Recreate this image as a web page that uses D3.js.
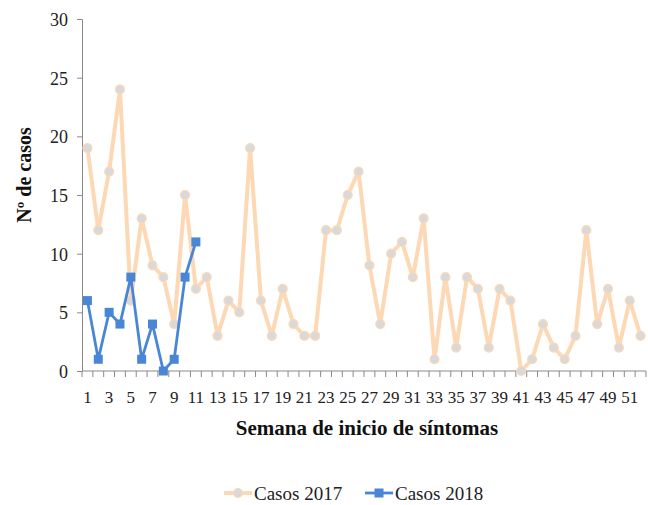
<!DOCTYPE html>
<html><head><meta charset="utf-8">
<script src="https://cdn.jsdelivr.net/npm/d3@7"></script>
<style>body{margin:0;background:#fff}svg{display:block}</style>
</head><body>
<svg id="c" width="648" height="505"></svg>
<script>
const FONT = "Liberation Serif, DejaVu Serif, serif";
const weeks = d3.range(1, 53);
const casos2017 = [19,12,17,24,6,13,9,8,4,15,7,8,3,6,5,19,6,3,7,4,3,3,12,12,15,17,9,4,10,11,8,13,1,8,2,8,7,2,7,6,0,1,4,2,1,3,12,4,7,2,6,3];
const casos2018 = [6,1,5,4,8,1,4,0,1,8,11];
const yTicks = [0,5,10,15,20,25,30];
const seriesNames = ["Casos 2017","Casos 2018"];

const svg = d3.select("#c");
const m = {l:82, r:646, t:19, b:371};
const x = d3.scaleBand().domain(weeks).range([m.l, m.r]);
const y = d3.scaleLinear().domain([0,30]).range([m.b, m.t]);
const axisColor = "#898989";

// y axis
const ya = svg.append("g").attr("transform",`translate(${m.l},0)`)
  .call(d3.axisLeft(y).tickValues(yTicks).tickSize(5).tickPadding(9));
ya.attr("font-family", FONT);
ya.selectAll("path,line").attr("stroke",axisColor);
ya.selectAll("text").attr("font-family",FONT).attr("font-size",18).attr("fill","#222").attr("dy","0.36em");

// x axis with ticks at band boundaries
const xa = svg.append("g").attr("transform",`translate(0,${m.b})`);
xa.append("line").attr("x1",m.l).attr("x2",m.r).attr("stroke",axisColor);
const bounds = weeks.map(w => x(w)).concat([m.r]);
xa.selectAll("line.t").data(bounds).join("line").attr("class","t")
  .attr("x1",d=>d).attr("x2",d=>d).attr("y1",0).attr("y2",6).attr("stroke",axisColor);
xa.selectAll("text").data(weeks.filter(w => w % 2 === 1)).join("text")
  .attr("x", d => x(d) + x.bandwidth()/2).attr("y", 32)
  .attr("text-anchor","middle").attr("font-family",FONT).attr("font-size",17).attr("fill","#222").text(d=>d);

const cx = w => x(w) + x.bandwidth()/2;
const line = d3.line().x(d=>cx(d[0])).y(d=>y(d[1]));

const d17 = weeks.map((w,i)=>[w,casos2017[i]]);
const d18 = casos2018.map((v,i)=>[weeks[i],v]);
const peach = "#FDD8B5", gray = "#D9D9D9", blue = "#4A86D6";

svg.append("path").datum(d17).attr("d",line).attr("fill","none").attr("stroke",peach).attr("stroke-width",4).attr("stroke-linejoin","round");
svg.selectAll("circle.p17").data(d17).join("circle").attr("class","p17")
  .attr("cx",d=>cx(d[0])).attr("cy",d=>y(d[1])).attr("r",4.5)
  .attr("fill",gray).attr("stroke",peach).attr("stroke-width",1.2);

svg.append("path").datum(d18).attr("d",line).attr("fill","none").attr("stroke",blue).attr("stroke-width",2.8).attr("stroke-linejoin","round");
svg.selectAll("rect.p18").data(d18).join("rect").attr("class","p18")
  .attr("x",d=>cx(d[0])-4.5).attr("y",d=>y(d[1])-4.5).attr("width",9).attr("height",9)
  .attr("fill",blue);

// titles
svg.append("text").attr("x",367).attr("y",435).attr("text-anchor","middle").attr("font-family",FONT)
  .attr("font-size",21).attr("font-weight","bold").attr("fill","#111").text("Semana de inicio de síntomas");
svg.append("text").attr("transform",`translate(31,175) rotate(-90)`).attr("text-anchor","middle").attr("font-family",FONT)
  .attr("font-size",20).attr("font-weight","bold").attr("fill","#111").text("Nº de casos");

// legend
const lg = svg.append("g");
const items = [{name:seriesNames[0], x:224, kind:"c"},{name:seriesNames[1], x:365, kind:"s"}];
items.forEach(it=>{
  const g = lg.append("g").attr("transform",`translate(${it.x},493)`);
  if(it.kind==="c"){
    g.append("line").attr("x1",0).attr("x2",28).attr("stroke",peach).attr("stroke-width",4);
    g.append("circle").attr("cx",14).attr("r",4.5).attr("fill",gray).attr("stroke",peach).attr("stroke-width",1.2);
  } else {
    g.append("line").attr("x1",0).attr("x2",28).attr("stroke",blue).attr("stroke-width",2.8);
    g.append("rect").attr("x",9.5).attr("y",-4.5).attr("width",9).attr("height",9).attr("fill",blue);
  }
  g.append("text").attr("x",30).attr("y",6.5).attr("font-family",FONT).attr("font-size",19).attr("fill","#222").text(it.name);
});
</script>
</body></html>
